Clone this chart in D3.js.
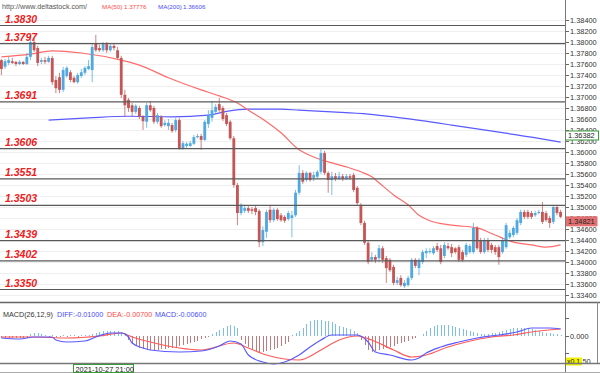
<!DOCTYPE html>
<html><head><meta charset="utf-8">
<script src="https://cdn.jsdelivr.net/npm/d3@7"></script>
<style>body{margin:0;background:#fff}svg{display:block}text{font-family:"Liberation Sans",Arial,sans-serif}</style>
</head><body><svg id="c" width="600" height="373"></svg>
<script>
const open=[1.3767,1.3755,1.3762,1.3765,1.3764,1.3760,1.3764,1.3760,1.3773,1.3800,
1.3789,1.3764,1.3767,1.3764,1.3771,1.3731,1.3736,1.3713,1.3738,1.3745,
1.3735,1.3727,1.3738,1.3744,1.3751,1.3749,1.3798,1.3789,1.3785,1.3796,
1.3785,1.3793,1.3785,1.3771,1.3704,1.3695,1.3685,1.3673,1.3680,1.3664,
1.3655,1.3685,1.3680,1.3655,1.3664,1.3649,1.3647,1.3649,1.3640,1.3658,
1.3607,1.3611,1.3611,1.3615,1.3627,1.3629,1.3622,1.3651,1.3662,1.3673,
1.3687,1.3680,1.3667,1.3655,1.3625,1.3540,1.3489,1.3493,1.3498,1.3496,
1.3498,1.3493,1.3436,1.3455,1.3495,1.3476,1.3495,1.3485,1.3482,1.3478,
1.3480,1.3485,1.3526,1.3562,1.3549,1.3562,1.3553,1.3555,1.3564,1.3598,
1.3562,1.3549,1.3556,1.3551,1.3556,1.3551,1.3556,1.3558,1.3535,1.3504,
1.3471,1.3435,1.3404,1.3409,1.3407,1.3425,1.3407,1.3404,1.3391,1.3362,
1.3371,1.3356,1.3358,1.3371,1.3404,1.3389,1.3400,1.3416,1.3418,1.3416,
1.3429,1.3425,1.3411,1.3429,1.3427,1.3425,1.3427,1.3418,1.3413,1.3418,
1.3418,1.3462,1.3440,1.3418,1.3440,1.3431,1.3427,1.3427,1.3418,1.3427,
1.3445,1.3449,1.3453,1.3471,1.3491,1.3491,1.3489,1.3485,1.3489,1.3491,
1.3489,1.3480,1.3473,1.3500,1.3491];
const high=[1.3769,1.3769,1.3773,1.3771,1.3765,1.3767,1.3765,1.3780,1.3816,1.3807,
1.3793,1.3771,1.3773,1.3775,1.3775,1.3738,1.3744,1.3755,1.3756,1.3749,
1.3738,1.3744,1.3751,1.3756,1.3767,1.3796,1.3813,1.3795,1.3800,1.3800,
1.3796,1.3798,1.3791,1.3775,1.3713,1.3698,1.3689,1.3687,1.3684,1.3667,
1.3689,1.3693,1.3684,1.3671,1.3667,1.3658,1.3660,1.3653,1.3662,1.3662,
1.3620,1.3618,1.3620,1.3631,1.3633,1.3633,1.3658,1.3676,1.3693,1.3687,
1.3698,1.3684,1.3671,1.3658,1.3629,1.3544,1.3507,1.3504,1.3502,1.3500,
1.3502,1.3496,1.3465,1.3495,1.3504,1.3498,1.3498,1.3489,1.3485,1.3493,
1.3493,1.3531,1.3576,1.3567,1.3565,1.3564,1.3564,1.3567,1.3605,1.3602,
1.3565,1.3564,1.3562,1.3564,1.3560,1.3560,1.3560,1.3562,1.3538,1.3507,
1.3475,1.3438,1.3418,1.3413,1.3431,1.3429,1.3411,1.3407,1.3395,1.3373,
1.3376,1.3367,1.3375,1.3407,1.3407,1.3407,1.3422,1.3425,1.3425,1.3429,
1.3435,1.3431,1.3436,1.3435,1.3433,1.3427,1.3431,1.3422,1.3435,1.3433,
1.3471,1.3465,1.3444,1.3444,1.3444,1.3435,1.3431,1.3431,1.3444,1.3471,
1.3458,1.3465,1.3480,1.3495,1.3495,1.3495,1.3493,1.3493,1.3495,1.3509,
1.3493,1.3484,1.3504,1.3504,1.3495];
const low=[1.3740,1.3751,1.3758,1.3760,1.3756,1.3758,1.3758,1.3758,1.3767,1.3782,
1.3756,1.3760,1.3760,1.3762,1.3722,1.3707,1.3707,1.3709,1.3735,1.3727,
1.3725,1.3724,1.3735,1.3740,1.3749,1.3727,1.3782,1.3782,1.3782,1.3780,
1.3782,1.3785,1.3769,1.3698,1.3664,1.3673,1.3665,1.3669,1.3660,1.3640,
1.3644,1.3673,1.3651,1.3651,1.3644,1.3646,1.3640,1.3635,1.3636,1.3604,
1.3604,1.3607,1.3609,1.3613,1.3625,1.3604,1.3620,1.3644,1.3655,1.3669,
1.3673,1.3656,1.3647,1.3622,1.3535,1.3467,1.3485,1.3489,1.3489,1.3487,
1.3485,1.3427,1.3429,1.3444,1.3471,1.3473,1.3475,1.3473,1.3471,1.3475,
1.3445,1.3482,1.3522,1.3542,1.3546,1.3546,1.3547,1.3551,1.3560,1.3558,
1.3526,1.3522,1.3547,1.3549,1.3547,1.3549,1.3549,1.3527,1.3504,1.3467,
1.3431,1.3396,1.3400,1.3398,1.3400,1.3398,1.3362,1.3382,1.3358,1.3358,
1.3355,1.3353,1.3355,1.3367,1.3389,1.3376,1.3396,1.3407,1.3415,1.3413,
1.3418,1.3396,1.3407,1.3422,1.3409,1.3415,1.3400,1.3400,1.3409,1.3415,
1.3415,1.3422,1.3415,1.3415,1.3418,1.3416,1.3413,1.3395,1.3415,1.3424,
1.3442,1.3445,1.3449,1.3467,1.3478,1.3478,1.3478,1.3482,1.3487,1.3469,
1.3473,1.3462,1.3469,1.3485,1.3480];
const close=[1.3751,1.3765,1.3767,1.3762,1.3760,1.3764,1.3760,1.3773,1.3800,1.3785,
1.3762,1.3767,1.3764,1.3771,1.3727,1.3716,1.3713,1.3749,1.3753,1.3731,
1.3727,1.3740,1.3745,1.3753,1.3756,1.3791,1.3785,1.3785,1.3796,1.3785,
1.3793,1.3789,1.3771,1.3704,1.3685,1.3680,1.3673,1.3684,1.3664,1.3656,
1.3685,1.3676,1.3655,1.3667,1.3647,1.3653,1.3653,1.3638,1.3658,1.3607,
1.3616,1.3615,1.3616,1.3627,1.3629,1.3622,1.3655,1.3667,1.3676,1.3682,
1.3676,1.3660,1.3651,1.3625,1.3540,1.3489,1.3504,1.3498,1.3493,1.3493,
1.3491,1.3436,1.3458,1.3491,1.3476,1.3495,1.3478,1.3476,1.3475,1.3489,
1.3485,1.3526,1.3562,1.3546,1.3562,1.3549,1.3558,1.3564,1.3598,1.3562,
1.3549,1.3556,1.3551,1.3556,1.3551,1.3556,1.3553,1.3531,1.3507,1.3471,
1.3435,1.3400,1.3409,1.3404,1.3425,1.3404,1.3389,1.3385,1.3362,1.3367,
1.3358,1.3362,1.3371,1.3404,1.3393,1.3404,1.3418,1.3420,1.3420,1.3425,
1.3422,1.3400,1.3431,1.3425,1.3416,1.3418,1.3404,1.3404,1.3431,1.3429,
1.3462,1.3425,1.3418,1.3440,1.3422,1.3422,1.3418,1.3409,1.3440,1.3467,
1.3453,1.3462,1.3476,1.3491,1.3482,1.3482,1.3482,1.3489,1.3491,1.3473,
1.3476,1.3471,1.3500,1.3489,1.34821];

// moving averages read at candle indices: [index, price]
const ma50=[[0,1.3773],[8,1.3778],[14,1.3784],[22,1.3780],[33,1.3767],[38,1.3758],[46,1.3735],[55,1.3713],
[60,1.3702],[65,1.3689],[68,1.3676],[73,1.3655],[77,1.3635],[82,1.3604],[86,1.3591],[90,1.3582],[95,1.3573],
[99,1.3564],[102,1.3555],[104,1.3544],[108,1.3522],[112,1.3504],[115,1.3485],[118,1.3475],[124,1.3467],
[131,1.3462],[136,1.3449],[141,1.3436],[146,1.3431],[150,1.3427],[154,1.3431]];
const ma200=[[13,1.3658],[24,1.3662],[35,1.3665],[47,1.3664],[57,1.3667],[62,1.3674],[68,1.3678],[77,1.3678],
[82,1.3676],[91,1.3673],[101,1.3669],[110,1.3662],[124,1.3649],[137,1.3636],[146,1.3627],[154,1.3618]];

// MACD lines read at candle indices: [index, value]
const diffLine=[[0,-0.0004],[5,-0.0006],[9,-0.0002],[14,-0.0002],[15,-0.0008],[18,-0.0012],[23,-0.0010],[26,-0.0002],
[30,0.0006],[33,0.0006],[35,-0.0002],[36,-0.0014],[39,-0.0024],[41,-0.0028],[49,-0.0032],[55,-0.0030],[60,-0.0020],
[63,-0.0010],[66,-0.0016],[68,-0.0038],[72,-0.0052],[75,-0.0056],[78,-0.0052],[82,-0.0038],[85,-0.0022],[88,-0.0008],
[91,0.0002],[98,0.0002],[101,-0.0012],[103,-0.0032],[107,-0.0038],[113,-0.0048],[115,-0.0044],[117,-0.0034],
[121,-0.0022],[126,-0.0012],[131,-0.0004],[137,0.0002],[142,0.0008],[146,0.0016],[151,0.0016],[154,0.0014]];
const deaLine=[[0,-0.0002],[9,-0.0002],[18,-0.0004],[27,0.0000],[33,0.0006],[36,-0.0002],[41,-0.0012],[49,-0.0024],
[55,-0.0028],[64,-0.0014],[68,-0.0024],[73,-0.0038],[78,-0.0046],[82,-0.0048],[88,-0.0028],[93,-0.0008],[98,0.0000],
[102,-0.0008],[108,-0.0028],[113,-0.0042],[117,-0.0038],[123,-0.0022],[128,-0.0012],[135,-0.0002],[141,0.0002],
[146,0.0008],[154,0.0014]];
const hist=[-0.0004,-0.0004,-0.0004,-0.0004,-0.0004,-0.0004,-0.0004,-0.0004,
0.0004,0.0006,0.0006,0.0004,
0.0002,-0.0002,0.0002,-0.0002,-0.0002,0.0002,-0.0002,0.0002,0.0002,-0.0002,0.0002,0.0002,0.0002,0.0004,
0.0006,0.0008,0.0010,0.0010,0.0010,0.0010,0.0010,0.0008,0.0006,
-0.0008,-0.0016,-0.0020,-0.0024,-0.0026,-0.0028,-0.0028,-0.0028,-0.0028,-0.0026,-0.0026,-0.0024,-0.0024,-0.0022,-0.0020,-0.0018,-0.0016,-0.0014,-0.0012,-0.0010,-0.0006,-0.0004,-0.0002,
0.0004,0.0008,0.0012,0.0016,0.0020,0.0022,0.0020,0.0016,
-0.0008,-0.0016,-0.0022,-0.0026,-0.0030,-0.0032,-0.0032,-0.0030,-0.0028,-0.0026,-0.0024,-0.0020,-0.0016,-0.0012,
0.0002,0.0006,0.0010,
0.0016,0.0024,0.0030,0.0032,0.0032,0.0032,0.0030,0.0030,0.0028,0.0024,0.0020,0.0018,0.0016,0.0014,0.0010,0.0006,
-0.0008,-0.0018,-0.0028,-0.0032,-0.0030,-0.0028,-0.0026,-0.0024,-0.0022,-0.0020,-0.0016,-0.0014,-0.0012,-0.0010,-0.0006,-0.0004,
0.0000,
0.0004,0.0010,0.0016,0.0020,0.0022,0.0022,0.0022,0.0022,0.0020,0.0018,0.0016,0.0014,0.0012,0.0010,0.0008,0.0006,0.0004,0.0004,
0.0004,0.0006,0.0006,0.0008,0.0010,0.0012,0.0014,0.0016,0.0016,0.0016,0.0016,0.0014,0.0014,0.0012,0.0010,0.0008,0.0006,0.0006,0.0004,0.0004,0.0002];

const levels=[1.3830,1.3797,1.3691,1.3606,1.3551,1.3503,1.3439,1.3402,1.3350];
const levelLabels=["1.3830","1.3797","1.3691","1.3606","1.3551","1.3503","1.3439","1.3402","1.3350"];
const priceTicks=[1.384,1.382,1.380,1.378,1.376,1.374,1.372,1.370,1.368,1.366,1.364,1.362,1.360,1.358,1.356,1.354,1.352,1.350,1.348,1.346,1.344,1.342,1.340,1.338,1.336,1.334];
const lastPrice=1.34821, ma200Mark=1.36382;
const ma50Val="1.37776", ma200Val="1.36606";
const macdTicks=[0.0036,0,-0.0034];
const headerTexts=[{t:"http://www.deltastock.com/",c:"#555",s:7.2},{t:"MA(50)",c:"#ff4a4a",s:6.2},{t:ma50Val,c:"#ff4a4a",s:6.2},{t:"MA(200)",c:"#4a4aff",s:6.2},{t:ma200Val,c:"#4a4aff",s:6.2}];
const macdTexts=[{t:"MACD(26,12,9)",c:"#333"},{t:"DIFF:-0.01000",c:"#4a4aff"},{t:"DEA:-0.00700",c:"#ff4a4a"},{t:"MACD:-0.00600",c:"#4a4aff"}];
const dateLabel="2021-10-27 21:00";

const svg=d3.select("#c");
const W=600, AX=565;
const idx=d3.range(open.length);
const x=d3.scaleBand().domain(idx).range([0,562]).paddingInner(0.22);
const xc=i=>x(i)+x.bandwidth()/2;
const y=d3.scaleLinear().domain([1.334,1.384]).range([295,20]);
const ym=d3.scaleLinear().domain([-0.005,0.005]).range([361,311]);

svg.append("rect").attr("width",W).attr("height",373).attr("fill","#fff");
const defs=svg.append("defs");
defs.append("clipPath").attr("id","mainclip").append("rect").attr("x",0).attr("y",12).attr("width",AX).attr("height",289);
defs.append("clipPath").attr("id","macdclip").append("rect").attr("x",0).attr("y",304).attr("width",AX).attr("height",62);

// light grid
const g=svg.append("g").attr("clip-path","url(#mainclip)");
g.selectAll("line.grid").data(priceTicks).join("line").attr("class","grid")
 .attr("x1",0).attr("x2",AX).attr("y1",d=>Math.round(y(d))+0.5).attr("y2",d=>Math.round(y(d))+0.5)
 .attr("stroke","#efefef").attr("stroke-width",1);

// MA lines
const lineP=d3.line().x(d=>xc(d[0])).y(d=>y(d[1])).curve(d3.curveMonotoneX);
g.append("path").datum(ma200).attr("d",lineP).attr("fill","none").attr("stroke","#5a5aff").attr("stroke-width",1.2);
g.append("path").datum(ma50).attr("d",lineP).attr("fill","none").attr("stroke","#ff6b6b").attr("stroke-width",1.2);

// candles
const blue="#4fa9e0", red="#c65656";
const col=i=>close[i]>=open[i]?blue:red;
g.selectAll("line.wick").data(idx).join("line").attr("class","wick")
 .attr("x1",i=>xc(i)).attr("x2",i=>xc(i)).attr("y1",i=>y(high[i])).attr("y2",i=>y(low[i]))
 .attr("stroke",i=>col(i)).attr("stroke-opacity",0.75).attr("stroke-width",1);
g.selectAll("rect.body").data(idx).join("rect").attr("class","body")
 .attr("x",i=>x(i)).attr("width",x.bandwidth())
 .attr("y",i=>y(Math.max(open[i],close[i])))
 .attr("height",i=>Math.max(1,Math.abs(y(open[i])-y(close[i]))))
 .attr("fill",i=>col(i));

// level lines
svg.selectAll("line.lvl").data(levels).join("line").attr("class","lvl")
 .attr("x1",0).attr("x2",AX).attr("y1",d=>y(d)).attr("y2",d=>y(d))
 .attr("stroke","#5a5a5a").attr("stroke-width",1.2);
svg.selectAll("text.lvl").data(levels).join("text").attr("class","lvl")
 .attr("x",5).attr("y",d=>y(d)-3).text((d,i)=>levelLabels[i])
 .attr("fill","#ee2020").attr("font-size",10.5).attr("font-weight","bold").attr("font-style","italic");

// right axis
const ax=svg.append("g").attr("transform",`translate(${AX},0)`)
 .call(d3.axisRight(y).tickValues(priceTicks).tickFormat(d3.format(".5f")).tickSize(4).tickPadding(1));
ax.select(".domain").remove();
ax.selectAll("line").attr("stroke","#666");
ax.selectAll("text").attr("fill","#333").attr("font-size",7.4).attr("font-family","Liberation Sans, Arial, sans-serif");

// price markers
svg.append("rect").attr("x",AX+0.5).attr("y",y(ma200Mark)).attr("width",33).attr("height",9)
 .attr("fill","#fff").attr("stroke","#3a9a3a").attr("stroke-width",1);
svg.append("text").attr("x",AX+3).attr("y",y(ma200Mark)+7.5).text(d3.format(".5f")(ma200Mark))
 .attr("fill","#222").attr("font-size",7.4);
svg.append("rect").attr("x",AX+0.5).attr("y",y(lastPrice)-0.5).attr("width",32).attr("height",10)
 .attr("fill","#e27070");
svg.append("text").attr("x",AX+3).attr("y",y(lastPrice)+7.5).text(d3.format(".5f")(lastPrice))
 .attr("fill","#222").attr("font-size",7.4);

// header
const hx=[2,102,124,158,183];
svg.selectAll("text.hdr").data(headerTexts).join("text").attr("class","hdr")
 .attr("x",(d,i)=>hx[i]).attr("y",9).text(d=>d.t).attr("fill",d=>d.c).attr("font-size",d=>d.s);

// panel separators
svg.append("line").attr("x1",0).attr("x2",W).attr("y1",302.5).attr("y2",302.5).attr("stroke","#666").attr("stroke-width",1.5);
svg.append("line").attr("x1",AX+0.5).attr("x2",AX+0.5).attr("y1",0).attr("y2",373).attr("stroke","#777").attr("stroke-width",1);

// MACD panel
const mg=svg.append("g").attr("clip-path","url(#macdclip)");
mg.selectAll("line.h").data(idx).join("line").attr("class","h")
 .attr("x1",i=>Math.round(xc(i))+0.5).attr("x2",i=>Math.round(xc(i))+0.5)
 .attr("y1",ym(0)).attr("y2",i=>ym(hist[i]))
 .attr("stroke",i=>hist[i]>=0?"#7cc0e8":"#c27a7a").attr("stroke-width",1);
const lineM=d3.line().x(d=>xc(d[0])).y(d=>ym(d[1])).curve(d3.curveMonotoneX);
mg.append("path").datum(deaLine).attr("d",lineM).attr("fill","none").attr("stroke","#ff5a5a").attr("stroke-width",1.2);
mg.append("path").datum(diffLine).attr("d",lineM).attr("fill","none").attr("stroke","#5a5aff").attr("stroke-width",1.2);

const mx=[3,57,107,155];
svg.selectAll("text.mc").data(macdTexts).join("text").attr("class","mc")
 .attr("x",(d,i)=>mx[i]).attr("y",317).text(d=>d.t).attr("fill",d=>d.c).attr("font-size",7.2);

const max=svg.append("g").attr("transform",`translate(${AX},0)`)
 .call(d3.axisRight(ym).tickValues(macdTicks).tickFormat(d=>d===0?"0.000":"").tickSize(4).tickPadding(1));
max.select(".domain").remove();
max.selectAll("line").attr("stroke","#666");
max.selectAll("text").attr("fill","#333").attr("font-size",7.4).attr("font-family","Liberation Sans, Arial, sans-serif");

svg.append("rect").attr("x",AX+1).attr("y",357.5).attr("width",16).attr("height",8).attr("fill","#f2f200");
svg.append("text").attr("x",AX+2).attr("y",364).text("x0.1").attr("fill","#222").attr("font-size",7);
svg.append("text").attr("x",AX+17.5).attr("y",364).text("50").attr("fill","#333").attr("font-size",7.4);
svg.append("line").attr("x1",597.5).attr("x2",597.5).attr("y1",302).attr("y2",364).attr("stroke","#888");

// bottom strip
svg.append("line").attr("x1",0).attr("x2",W).attr("y1",363.5).attr("y2",363.5).attr("stroke","#777").attr("stroke-width",1.5);
svg.append("line").attr("x1",0).attr("x2",W).attr("y1",372.5).attr("y2",372.5).attr("stroke","#aaa").attr("stroke-width",1);
svg.append("rect").attr("x",73.5).attr("y",364.5).attr("width",60).attr("height",8).attr("fill","#fff").attr("stroke","#3a9a3a");
svg.append("text").attr("x",75.5).attr("y",371.5).text(dateLabel).attr("fill","#222").attr("font-size",7.4);
</script></body></html>
